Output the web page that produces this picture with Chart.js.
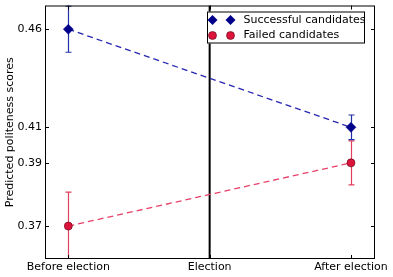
<!DOCTYPE html>
<html>
<head>
<meta charset="utf-8">
<script src="https://cdn.jsdelivr.net/npm/chart.js@4"></script>
<style>
html, body { margin: 0; padding: 0; background: #fff; }
</style>
</head>
<body>
<canvas id="chart" width="393" height="277"></canvas>
<script>
const periods = ["Before election", "Election", "After election"];
const periodPos = [0, 1, 2];
const measuredAt = [0, 2];
const seriesNames = ["Successful candidates", "Failed candidates"];
const successful = [0.4558, 0.4111];
const successfulErr = [0.0105, 0.0056];
const failed = [0.3661, 0.3949];
const failedErr = [0.0155, 0.0100];
const yTickValues = [0.4558, 0.4111, 0.3949, 0.3661];
const yTickLabels = ["0.46", "0.41", "0.39", "0.37"];

const FONT = "DejaVu Sans";

function drawErrors(ctx, x, y, values, errs, color) {
  ctx.strokeStyle = color;
  ctx.lineWidth = 1.2;
  values.forEach((v, i) => {
    const px = Math.round(x.getPixelForValue(measuredAt[i])) + 0.5;
    const top = y.getPixelForValue(v + errs[i]);
    const bot = y.getPixelForValue(v - errs[i]);
    ctx.beginPath();
    ctx.moveTo(px, top); ctx.lineTo(px, bot);
    ctx.moveTo(px - 3, top); ctx.lineTo(px + 3, top);
    ctx.moveTo(px - 3, bot); ctx.lineTo(px + 3, bot);
    ctx.stroke();
  });
}

function diamond(ctx, cx, cy, r, fill) {
  ctx.beginPath();
  ctx.moveTo(cx, cy - r); ctx.lineTo(cx + r, cy);
  ctx.lineTo(cx, cy + r); ctx.lineTo(cx - r, cy);
  ctx.closePath();
  ctx.fillStyle = fill; ctx.fill();
}

function circle(ctx, cx, cy, r, fill) {
  ctx.beginPath();
  ctx.arc(cx, cy, r, 0, Math.PI * 2);
  ctx.fillStyle = fill; ctx.fill();
  ctx.strokeStyle = '#5a0010'; ctx.lineWidth = 0.6; ctx.stroke();
}

const decorations = {
  id: 'decorations',
  beforeDatasetsDraw(chart) {
    const { ctx, chartArea: a, scales: { x, y } } = chart;
    ctx.save();
    ctx.beginPath();
    ctx.rect(a.left, a.top, a.right - a.left, a.bottom - a.top);
    ctx.clip();
    // election marker
    const ex = x.getPixelForValue(periodPos[1]);
    ctx.strokeStyle = '#000';
    ctx.lineWidth = 2;
    ctx.beginPath();
    ctx.moveTo(ex, a.top); ctx.lineTo(ex, a.bottom);
    ctx.stroke();
    drawErrors(ctx, x, y, failed, failedErr, '#e0405f');
    drawErrors(ctx, x, y, successful, successfulErr, '#2230a8');
    ctx.restore();
  },
  afterDatasetsDraw(chart) {
    const { ctx, chartArea: a, scales: { x, y } } = chart;
    ctx.save();
    // frame
    ctx.strokeStyle = '#000';
    ctx.lineWidth = 1;
    ctx.strokeRect(a.left + 0.5, a.top + 0.5, a.right - a.left - 1, a.bottom - a.top - 1);
    // inner ticks
    ctx.beginPath();
    yTickValues.forEach(v => {
      const py = Math.round(y.getPixelForValue(v)) + 0.5;
      ctx.moveTo(a.left, py); ctx.lineTo(a.left + 4, py);
      ctx.moveTo(a.right, py); ctx.lineTo(a.right - 4, py);
    });
    periodPos.forEach(v => {
      const px = Math.round(x.getPixelForValue(v)) + 0.5;
      ctx.moveTo(px, a.bottom); ctx.lineTo(px, a.bottom - 4);
      ctx.moveTo(px, a.top); ctx.lineTo(px, a.top + 4);
    });
    ctx.stroke();
    // legend
    const right = a.right - 10, top = a.top + 6;
    const left = right - 158;
    ctx.fillStyle = '#fff';
    ctx.fillRect(left, top, right - left, 32);
    ctx.strokeStyle = '#000';
    ctx.strokeRect(left + 0.5, top + 0.5, right - left - 1, 31);
    const rows = [top + 8.5, top + 24];
    diamond(ctx, left + 5.5, rows[0], 5, '#00008b');
    diamond(ctx, left + 23.5, rows[0], 5, '#00008b');
    circle(ctx, left + 5.5, rows[1], 4, '#dc143c');
    circle(ctx, left + 23.5, rows[1], 4, '#dc143c');
    ctx.fillStyle = '#000';
    ctx.font = '11px "' + FONT + '"';
    ctx.textBaseline = 'middle';
    ctx.textAlign = 'left';
    seriesNames.forEach((n, i) => ctx.fillText(n, left + 36.5, rows[i]));
    ctx.restore();
  }
};

function main() {
  const ctx = document.getElementById("chart").getContext("2d");
  new Chart(ctx, {
    type: 'scatter',
    data: {
      datasets: [{
        label: seriesNames[0],
        data: measuredAt.map((p, i) => ({ x: p, y: successful[i] })),
        showLine: true,
        borderColor: '#2626b0',
        borderWidth: 1.3,
        borderDash: [6, 4],
        pointStyle: 'rectRot',
        pointRadius: 5,
        pointHoverRadius: 5,
        pointBackgroundColor: '#00008b',
        pointBorderColor: '#00008b',
        pointBorderWidth: 0.5
      }, {
        label: seriesNames[1],
        data: measuredAt.map((p, i) => ({ x: p, y: failed[i] })),
        showLine: true,
        borderColor: '#e8406a',
        borderWidth: 1.3,
        borderDash: [6, 4],
        pointStyle: 'circle',
        pointRadius: 4,
        pointHoverRadius: 4,
        pointBackgroundColor: '#dc143c',
        pointBorderColor: '#5a0010',
        pointBorderWidth: 0.6
      }]
    },
    options: {
      responsive: false,
      animation: false,
      layout: { padding: { left: 0, right: 18, top: 5, bottom: 0 } },
      plugins: {
        legend: { display: false },
        tooltip: { enabled: false }
      },
      scales: {
        x: {
          type: 'linear',
          min: -0.165,
          max: 2.17,
          grid: { display: false, drawTicks: false },
          border: { display: false },
          afterBuildTicks: s => { s.ticks = periodPos.map(v => ({ value: v })); },
          afterFit: s => { s.height = 18; s.paddingLeft = 0; s.paddingRight = 0; },
          ticks: {
            autoSkip: false,
            maxRotation: 0,
            padding: 2,
            color: '#000',
            font: { family: FONT, size: 11 },
            callback: (v, i) => periods[i]
          }
        },
        y: {
          type: 'linear',
          min: 0.3511,
          max: 0.4666,
          grid: { display: false, drawTicks: false },
          border: { display: false },
          afterBuildTicks: s => { s.ticks = yTickValues.map(v => ({ value: v })); },
          afterFit: s => { s.width = 45; s.paddingTop = 0; s.paddingBottom = 0; },
          ticks: {
            autoSkip: false,
            padding: 3,
            color: '#000',
            font: { family: FONT, size: 11 },
            callback: (v, i) => yTickLabels[i]
          },
          title: {
            display: true,
            text: 'Predicted politeness scores',
            color: '#000',
            font: { family: FONT, size: 11 },
            padding: { top: 4, bottom: 0 }
          }
        }
      }
    },
    plugins: [decorations]
  });
}

window.addEventListener("DOMContentLoaded", main);
</script>
</body>
</html>
